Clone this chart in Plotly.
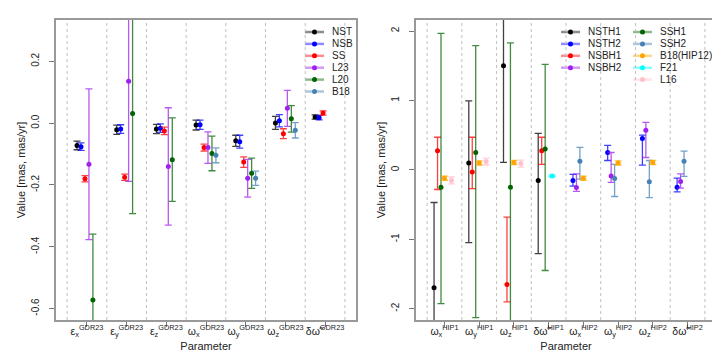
import plotly.graph_objects as go
from plotly.subplots import make_subplots

# ---- left panel: GDR23 parameters ----
gdr_params = ['ε<sub>x</sub><sup>GDR23</sup>', 'ε<sub>y</sub><sup>GDR23</sup>', 'ε<sub>z</sub><sup>GDR23</sup>',
              'ω<sub>x</sub><sup>GDR23</sup>', 'ω<sub>y</sub><sup>GDR23</sup>', 'ω<sub>z</sub><sup>GDR23</sup>',
              'δω̃<sup>GDR23</sup>']
gdr_names = ['NST', 'NSB', 'SS', 'L23', 'L20', 'B18']
gdr_colors = ['#000000', '#0000FF', '#FF0000', '#A020F0', '#006400', '#4682B4']

nst_val = [-0.072, -0.021, -0.019, -0.006, -0.057, 0.001, 0.020]
nst_err = [0.014, 0.015, 0.015, 0.016, 0.018, 0.021, 0.007]
nsb_val = [-0.076, -0.019, -0.016, -0.005, -0.060, 0.008, 0.018]
nsb_err = [0.012, 0.014, 0.014, 0.015, 0.021, 0.020, 0.007]
ss_val = [-0.180, -0.175, -0.025, -0.079, -0.126, -0.034, 0.033]
ss_err = [0.010, 0.010, 0.012, 0.011, 0.017, 0.016, 0.007]
l23_val = [-0.133, 0.136, -0.140, -0.079, -0.178, 0.048, None]
l23_err = [0.244, 0.324, 0.190, 0.051, 0.061, 0.058, None]
l20_val = [-0.572, 0.031, -0.118, -0.098, -0.162, 0.014, None]
l20_err = [0.213, 0.324, 0.135, 0.056, 0.049, 0.043, None]
b18_val = [None, None, None, -0.104, -0.178, -0.023, None]
b18_err = [None, None, None, 0.024, 0.023, 0.025, None]

gdr_vals = [nst_val, nsb_val, ss_val, l23_val, l20_val, b18_val]
gdr_errs = [nst_err, nsb_err, ss_err, l23_err, l20_err, b18_err]
gdr_offsets = [-0.25, -0.15, -0.05, 0.05, 0.15, 0.25]

# ---- right panel: HIP1 / HIP2 parameters ----
hip_params = ['ω<sub>x</sub><sup>HIP1</sup>', 'ω<sub>y</sub><sup>HIP1</sup>', 'ω<sub>z</sub><sup>HIP1</sup>',
              'δω̃<sup>HIP1</sup>', 'ω<sub>x</sub><sup>HIP2</sup>', 'ω<sub>y</sub><sup>HIP2</sup>',
              'ω<sub>z</sub><sup>HIP2</sup>', 'δω̃<sup>HIP2</sup>']
hip_names = ['NSTH1', 'NSTH2', 'NSBH1', 'NSBH2', 'SSH1', 'SSH2', 'B18(HIP12)', 'F21', 'L16']
hip_colors = ['#000000', '#0000FF', '#FF0000', '#A020F0', '#006400', '#4682B4', '#FFA500', '#00FFFF', '#FFC0CB']
hip_offsets = [-0.3, -0.3, -0.2, -0.2, -0.1, -0.1, 0.0, 0.1, 0.2]

nsth1_val = [-1.70, 0.10, 1.50, -0.153, None, None, None, None]
nsth1_lo = [-2.93, -1.047, 0.107, -1.206, None, None, None, None]
nsth1_hi = [-0.47, 0.995, 2.89, 0.525, None, None, None, None]
nsth2_val = [None, None, None, None, -0.153, 0.25, 0.452, -0.25]
nsth2_lo = [None, None, None, None, -0.235, 0.135, 0.068, -0.317]
nsth2_hi = [None, None, None, None, -0.066, 0.352, 0.50, -0.12]
nsbh1_val = [0.274, -0.03, -1.653, 0.274, None, None, None, None]
nsbh1_lo = [-0.283, -0.27, -1.903, 0.078, None, None, None, None]
nsbh1_hi = [0.47, 0.47, -0.682, 0.47, None, None, None, None]
nsbh2_val = [None, None, None, None, -0.254, -0.09, 0.572, -0.168]
nsbh2_lo = [None, None, None, None, -0.31, -0.18, 0.178, -0.264]
nsbh2_hi = [None, None, None, None, -0.058, 0.25, 0.683, -0.058]
ssh1_val = [-0.25, 0.25, -0.25, 0.30, None, None, None, None]
ssh1_lo = [-1.927, -2.13, -2.6, -1.45, None, None, None, None]
ssh1_hi = [1.967, 1.79, 1.83, 1.52, None, None, None, None]
ssh2_val = [None, None, None, None, 0.125, -0.125, -0.173, 0.125]
ssh2_lo = [None, None, None, None, -0.134, -0.384, -0.40, -0.095]
ssh2_hi = [None, None, None, None, 0.323, 0.078, 0.135, 0.27]
b18h_val = [-0.12, 0.10, 0.107, None, -0.12, 0.10, 0.107, None]
b18h_lo = [-0.15, 0.07, 0.077, None, -0.15, 0.07, 0.077, None]
b18h_hi = [-0.09, 0.13, 0.137, None, -0.09, 0.13, 0.137, None]
f21_val = [None, None, None, -0.087, None, None, None, None]
f21_lo = [None, None, None, -0.099, None, None, None, None]
f21_hi = [None, None, None, -0.075, None, None, None, None]
l16_val = [-0.153, 0.12, 0.09, None, None, None, None, None]
l16_lo = [-0.203, 0.07, 0.04, None, None, None, None, None]
l16_hi = [-0.103, 0.17, 0.14, None, None, None, None, None]

hip_vals = [nsth1_val, nsth2_val, nsbh1_val, nsbh2_val, ssh1_val, ssh2_val, b18h_val, f21_val, l16_val]
hip_los = [nsth1_lo, nsth2_lo, nsbh1_lo, nsbh2_lo, ssh1_lo, ssh2_lo, b18h_lo, f21_lo, l16_lo]
hip_his = [nsth1_hi, nsth2_hi, nsbh1_hi, nsbh2_hi, ssh1_hi, ssh2_hi, b18h_hi, f21_hi, l16_hi]

W, H = 720, 360


def fade(hex_color, alpha):
    h = hex_color.lstrip('#')
    r, g, b = int(h[0:2], 16), int(h[2:4], 16), int(h[4:6], 16)
    return f'rgba({r},{g},{b},{alpha})'


def add_legend_entry(fig, name, color, px_x, px_y):
    """R-style legend key: faded line, solid dot, label (pixel position -> paper)"""
    yy = 1 - px_y / H
    fig.add_shape(type='line', xref='paper', yref='paper',
                  x0=px_x / W, x1=(px_x + 19) / W, y0=yy, y1=yy,
                  line=dict(color=fade(color, 0.45), width=2.5))
    fig.add_shape(type='circle', xref='paper', yref='paper',
                  xsizemode='pixel', ysizemode='pixel',
                  xanchor=(px_x + 9.5) / W, yanchor=yy,
                  x0=-2.5, x1=2.5, y0=-2.5, y1=2.5,
                  fillcolor=color, line=dict(width=0))
    fig.add_annotation(text=name, xref='paper', yref='paper',
                       x=(px_x + 25) / W, y=yy, xanchor='left', yanchor='middle',
                       showarrow=False, font=dict(size=10, color='#222222'))


fig = make_subplots(rows=1, cols=2)

# left panel series
for i, name in enumerate(gdr_names):
    xs = [k + 1 + gdr_offsets[i] for k in range(len(gdr_params))]
    errs = [e if e is not None else 0 for e in gdr_errs[i]]
    fig.add_trace(go.Scatter(
        x=xs, y=gdr_vals[i], mode='markers', name=name, showlegend=False,
        marker=dict(color=gdr_colors[i], size=5),
        error_y=dict(type='data', array=errs, color=fade(gdr_colors[i], 0.75),
                     thickness=1.3, width=3.5)
    ), row=1, col=1)
    add_legend_entry(fig, name, gdr_colors[i], 297, 24 + 11.9 * i)

# right panel series
for i, name in enumerate(hip_names):
    xs = [k + 1 + hip_offsets[i] for k in range(len(hip_params))]
    plus = [h - v if v is not None else 0 for v, h in zip(hip_vals[i], hip_his[i])]
    minus = [v - lo if v is not None else 0 for v, lo in zip(hip_vals[i], hip_los[i])]
    fig.add_trace(go.Scatter(
        x=xs, y=hip_vals[i], mode='markers', name=name, showlegend=False,
        marker=dict(color=hip_colors[i], size=5),
        error_y=dict(type='data', symmetric=False, array=plus, arrayminus=minus,
                     color=fade(hip_colors[i], 0.75), thickness=1.3, width=3.5)
    ), row=1, col=2)
    col_x = 553 if i < 4 else 625
    row = i if i < 4 else i - 4
    add_legend_entry(fig, name, hip_colors[i], col_x, 24 + 11.9 * row)

# dotted group separators
for k in range(len(gdr_params) + 1):
    fig.add_vline(x=k + 0.5, line=dict(color='#c0c0c0', width=1, dash='dot'), row=1, col=1)
for k in range(len(hip_params) + 1):
    fig.add_vline(x=k + 0.5, line=dict(color='#c0c0c0', width=1, dash='dot'), row=1, col=2)

axis_style = dict(showline=True, mirror=True, linecolor='#999999', linewidth=2,
                  ticks='outside', ticklen=5, tickcolor='#777777', showgrid=False,
                  zeroline=False, tickfont=dict(size=10, color='#222222'))

fig.update_xaxes(axis_style)
fig.update_yaxes(axis_style)
fig.update_xaxes(tickangle=0, ticklabelstandoff=-5, tickfont=dict(size=10.5, color='#222222'))
fig.update_yaxes(tickangle=-90, ticklabelstandoff=6)

fig.update_xaxes(row=1, col=1, domain=[48 / W, 348 / W], range=[0.22, 7.78],
                 tickvals=list(range(1, len(gdr_params) + 1)), ticktext=gdr_params,
                 title=dict(text='Parameter', font=dict(size=11, color='#222222'), standoff=4))
fig.update_xaxes(row=1, col=2, domain=[408 / W, 708 / W], range=[0.18, 8.82],
                 tickvals=list(range(1, len(hip_params) + 1)), ticktext=hip_params,
                 title=dict(text='Parameter', font=dict(size=11, color='#222222'), standoff=4))

gdr_ticks = [-0.6, -0.4, -0.2, 0.0, 0.2]
gdr_ticklabels = ['-0.6', '-0.4', '-0.2', '0.0', '0.2']
hip_ticks = [-2, -1, 0, 1, 2]
hip_ticklabels = ['-2', '-1', '0', '1', '2']

fig.update_yaxes(row=1, col=1, domain=[48 / H, 348 / H], range=[-0.637, 0.334],
                 tickvals=gdr_ticks, ticktext=gdr_ticklabels,
                 title=dict(text='Value [mas, mas/yr]', font=dict(size=11, color='#222222'), standoff=2))
fig.update_yaxes(row=1, col=2, domain=[48 / H, 348 / H], range=[-2.163, 2.159],
                 tickvals=hip_ticks, ticktext=hip_ticklabels,
                 title=dict(text='Value [mas, mas/yr]', font=dict(size=11, color='#222222'), standoff=2))

fig.update_layout(
    width=W, height=H,
    margin=dict(l=0, r=0, t=0, b=0),
    paper_bgcolor='white', plot_bgcolor='white',
    font=dict(family='Liberation Sans, Arial, sans-serif'),
    showlegend=False,
)

fig.write_html("out.html")
